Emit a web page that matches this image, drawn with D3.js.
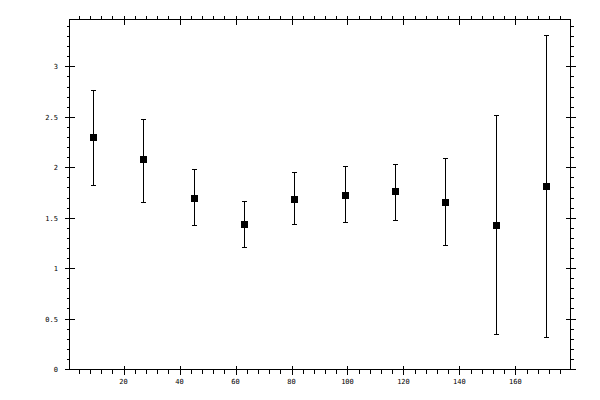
<!DOCTYPE html>
<html>
<head>
<meta charset="utf-8">
<script src="https://cdn.jsdelivr.net/npm/d3@7"></script>
<style>
html,body{margin:0;padding:0;background:#fff;}
svg{display:block;}
text{font-family:"DejaVu Sans Mono",monospace;font-size:7px;fill:#000;}
</style>
</head>
<body>
<svg id="chart" width="600" height="400"></svg>
<script>
const xValues = [9, 27, 45, 63, 81, 99, 117, 135, 153, 171];
const yValues = [2.30, 2.08, 1.70, 1.44, 1.69, 1.73, 1.76, 1.66, 1.43, 1.81];
const yLower  = [1.82, 1.66, 1.43, 1.21, 1.44, 1.46, 1.48, 1.23, 0.35, 0.32];
const yUpper  = [2.77, 2.48, 1.98, 1.67, 1.95, 2.01, 2.03, 2.09, 2.52, 3.31];
const xMajorTicks = [20, 40, 60, 80, 100, 120, 140, 160];
const yMajorTicks = [0, 0.5, 1, 1.5, 2, 2.5, 3];

const svg = d3.select("#chart");
const L = 69, R = 570, T = 19, B = 369;
const x = d3.scaleLinear().domain([0.5, 179.5]).range([L, R]);
const y = d3.scaleLinear().domain([0, 3.47]).range([B, T]);

const g = svg.append("g").attr("shape-rendering", "crispEdges");

// frame
g.append("rect").attr("x", L + 0.5).attr("y", T + 0.5)
  .attr("width", R - L).attr("height", B - T)
  .attr("fill", "none").attr("stroke", "#000").attr("stroke-width", 1);

const xMinor = d3.range(4, 180, 4).filter(v => v % 20 !== 0);
const yMinor = d3.range(1, 35).map(i => i / 10).filter(v => Math.abs(v * 2 - Math.round(v * 2)) > 1e-6);

function px(v){ return Math.round(x(v)) + 0.5; }
function py(v){ return Math.round(y(v)) + 0.5; }

// bottom & top ticks
[[B, 1], [T, -1]].forEach(([base, dir]) => {
  g.selectAll(null).data(xMinor).enter().append("line")
    .attr("x1", px).attr("x2", px)
    .attr("y1", base + 0.5).attr("y2", base + 0.5 + dir * 4)
    .attr("stroke", "#000");
  g.selectAll(null).data(xMajorTicks).enter().append("line")
    .attr("x1", px).attr("x2", px)
    .attr("y1", base + 0.5 - 4).attr("y2", base + 0.5 + 5)
    .attr("stroke", "#000");
});
// left & right ticks
[[L, -1], [R, 1]].forEach(([base, dir]) => {
  g.selectAll(null).data(yMinor).enter().append("line")
    .attr("y1", py).attr("y2", py)
    .attr("x1", base + 0.5).attr("x2", base + 0.5 + dir * 3)
    .attr("stroke", "#000");
  g.selectAll(null).data(yMajorTicks).enter().append("line")
    .attr("y1", py).attr("y2", py)
    .attr("x1", base + 0.5 - 5).attr("x2", base + 0.5 + 5)
    .attr("stroke", "#000");
});

// labels
svg.selectAll(null).data(xMajorTicks).enter().append("text")
  .attr("x", d => x(d)).attr("y", 384)
  .attr("text-anchor", "middle").text(d => d);
svg.selectAll(null).data(yMajorTicks).enter().append("text")
  .attr("x", 58).attr("y", d => y(d) + 3)
  .attr("text-anchor", "end").text(d => d);

// error bars
const idx = d3.range(xValues.length);
g.selectAll(null).data(idx).enter().append("line")
  .attr("x1", i => px(xValues[i])).attr("x2", i => px(xValues[i]))
  .attr("y1", i => py(yLower[i])).attr("y2", i => py(yUpper[i]))
  .attr("stroke", "#000");
[yLower, yUpper].forEach(arr => {
  g.selectAll(null).data(idx).enter().append("line")
    .attr("x1", i => px(xValues[i]) - 2.5).attr("x2", i => px(xValues[i]) + 2.5)
    .attr("y1", i => py(arr[i])).attr("y2", i => py(arr[i]))
    .attr("stroke", "#000");
});
// markers
g.selectAll(null).data(idx).enter().append("rect")
  .attr("x", i => Math.round(x(xValues[i])) - 3)
  .attr("y", i => Math.round(y(yValues[i])) - 3)
  .attr("width", 7).attr("height", 7)
  .attr("fill", "#000");
</script>
</body>
</html>
